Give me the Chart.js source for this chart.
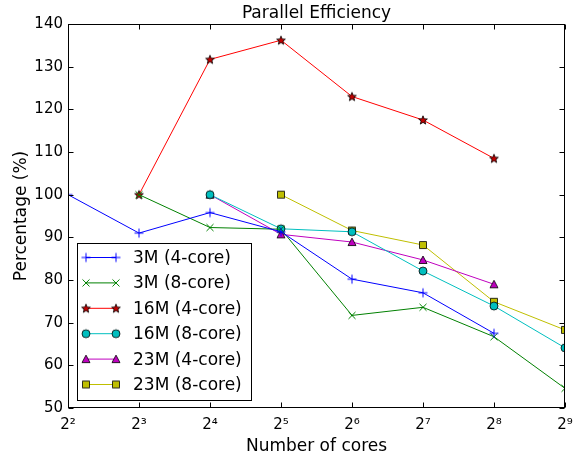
<!DOCTYPE html>
<html>
<head>
<meta charset="utf-8">
<script src="https://cdn.jsdelivr.net/npm/chart.js"></script>
<style>
  html, body { margin: 0; padding: 0; background: #fff; }
</style>
</head>
<body>
<canvas id="effChart" width="574" height="458"></canvas>
<script>
// parallel efficiency (%), null = no run at that core count
const cores = [4, 8, 16, 32, 64, 128, 256, 512];
const xTickLabels = ['2²', '2³', '2⁴', '2⁵', '2⁶', '2⁷', '2⁸', '2⁹'];
const seriesNames = ['3M (4-core)', '3M (8-core)', '16M (4-core)', '16M (8-core)', '23M (4-core)', '23M (8-core)'];
const eff3M4 = [100, 91, 95.8, 91.3, 80.2, 77, 67.5, null];
const eff3M8 = [null, 100, 92.3, 91.9, 71.7, 73.6, 66.7, 54.6];
const eff16M4 = [null, 100, 131.7, 136.2, 123, 117.5, 108.5, null];
const eff16M8 = [null, null, 100, 92, 91.3, 82.1, 73.9, 64.1];
const eff23M4 = [null, null, 100, 90.7, 88.9, 84.7, 79, null];
const eff23M8 = [null, null, null, 100, 91.6, 88.2, 74.9, 68.3];

const FONT = 'DejaVu Sans';

// matplotlib-like markers drawn once into small canvases
function makeMarker(kind, fill, edge) {
    const c = document.createElement('canvas');
    c.width = 12; c.height = 12;
    const g = c.getContext('2d');
    const m = 6;
    g.lineWidth = 1;
    g.strokeStyle = edge;
    g.fillStyle = fill;
    g.beginPath();
    if (kind === 'plus') {
        g.moveTo(m - 4.5, m); g.lineTo(m + 4.5, m);
        g.moveTo(m, m - 4.5); g.lineTo(m, m + 4.5);
        g.stroke();
        return c;
    }
    if (kind === 'x') {
        g.moveTo(m - 3.5, m - 3.5); g.lineTo(m + 3.5, m + 3.5);
        g.moveTo(m + 3.5, m - 3.5); g.lineTo(m - 3.5, m + 3.5);
        g.stroke();
        return c;
    }
    if (kind === 'star') {
        for (let i = 0; i < 10; i++) {
            const r = i % 2 ? 2.0 : 4.6;
            const a = -Math.PI / 2 + i * Math.PI / 5;
            g.lineTo(m + r * Math.cos(a), m + 0.4 + r * Math.sin(a));
        }
        g.closePath();
    } else if (kind === 'circle') {
        g.arc(m, m, 4, 0, Math.PI * 2);
    } else if (kind === 'tri') {
        g.moveTo(m, m - 4); g.lineTo(m + 4, m + 3.5); g.lineTo(m - 4, m + 3.5);
        g.closePath();
    } else if (kind === 'square') {
        g.rect(m - 3.5, m - 3.5, 7, 7);
    }
    g.fill();
    g.lineWidth = 0.8;
    g.strokeStyle = '#000';
    g.stroke();
    return c;
}

const colors = ['#0000ff', '#008000', '#ff0000', '#00bfbf', '#bf00bf', '#bfbf00'];
const markers = [
    makeMarker('plus', '#0000ff', '#0000ff'),
    makeMarker('x', '#008000', '#008000'),
    makeMarker('star', '#c00000', '#000'),
    makeMarker('circle', '#00bfbf', '#000'),
    makeMarker('tri', '#bf00bf', '#000'),
    makeMarker('square', '#bfbf00', '#000')
];
const allSeries = [eff3M4, eff3M8, eff16M4, eff16M8, eff23M4, eff23M8];

const datasets = allSeries.map(function(vals, i) {
    return {
        label: seriesNames[i],
        data: cores.map((c, j) => ({ x: c, y: vals[j] })),
        borderColor: colors[i],
        backgroundColor: colors[i],
        borderWidth: 1,
        pointStyle: markers[i],
        pointRadius: 5,
        tension: 0,
        clip: 0
    };
});

// frame, inward ticks on all sides, title and the boxed legend
const mplDecor = {
    id: 'mplDecor',
    afterDraw(chart) {
        const ctx = chart.ctx;
        const a = chart.chartArea;
        const xs = chart.scales.x, ys = chart.scales.y;
        ctx.save();
        ctx.strokeStyle = '#000';
        ctx.lineWidth = 1;
        const L = Math.round(a.left) + 0.5, R = Math.round(a.right) - 0.5;
        const T = Math.round(a.top) + 0.5, B = Math.round(a.bottom) - 0.5;
        ctx.beginPath();
        cores.forEach(function(c) {
            const px = Math.round(xs.getPixelForValue(c)) + 0.5;
            ctx.moveTo(px, B); ctx.lineTo(px, B - 5);
            ctx.moveTo(px, T); ctx.lineTo(px, T + 5);
        });
        for (let v = 50; v <= 140; v += 10) {
            const py = Math.round(ys.getPixelForValue(v)) + 0.5;
            ctx.moveTo(L, py); ctx.lineTo(L + 5, py);
            ctx.moveTo(R, py); ctx.lineTo(R - 5, py);
        }
        ctx.stroke();
        ctx.strokeRect(L, T, R - L, B - T);

        // title
        ctx.fillStyle = '#000';
        ctx.font = '17px "' + FONT + '"';
        ctx.textAlign = 'center';
        ctx.textBaseline = 'alphabetic';
        ctx.fillText('Parallel Efficiency', (a.left + a.right) / 2, 18);

        // legend
        const lx = a.left + 9.5, ly = 243.5, lw = 174, lh = 157;
        ctx.fillStyle = '#fff';
        ctx.fillRect(lx, ly, lw, lh);
        ctx.strokeRect(lx, ly, lw, lh);
        ctx.textAlign = 'left';
        ctx.textBaseline = 'middle';
        seriesNames.forEach(function(name, i) {
            const y = 257.5 + i * 25.4;
            ctx.strokeStyle = colors[i];
            ctx.beginPath();
            ctx.moveTo(86, y); ctx.lineTo(116, y);
            ctx.stroke();
            ctx.drawImage(markers[i], 86 - 6, y - 6);
            ctx.drawImage(markers[i], 116 - 6, y - 6);
            ctx.fillStyle = '#000';
            ctx.fillText(name, 133, y + 1);
        });
        ctx.restore();
    }
};

new Chart(document.getElementById('effChart'), {
    type: 'line',
    data: { datasets: datasets },
    options: {
        responsive: false,
        animation: false,
        layout: { padding: { top: 24, right: 9, left: 0, bottom: 0 } },
        plugins: {
            legend: { display: false },
            tooltip: { enabled: false },
            title: { display: false }
        },
        scales: {
            x: {
                type: 'logarithmic',
                min: 4,
                max: 512,
                afterBuildTicks: function(s) { s.ticks = cores.map(v => ({ value: v })); },
                afterFit: function(s) { s.height = 50; s.paddingLeft = 0; s.paddingRight = 0; },
                grid: { display: false, drawTicks: false },
                border: { display: false },
                ticks: {
                    autoSkip: false,
                    maxRotation: 0,
                    padding: 8,
                    color: '#000',
                    font: { family: FONT, size: 15 },
                    callback: function(v, i) { return xTickLabels[i]; }
                },
                title: {
                    display: true,
                    text: 'Number of cores',
                    color: '#000',
                    font: { family: FONT, size: 17 },
                    padding: { top: 0, bottom: 1 }
                }
            },
            y: {
                min: 50,
                max: 140,
                afterFit: function(s) { s.width = 68; s.paddingTop = 0; s.paddingBottom = 0; },
                grid: { display: false, drawTicks: false },
                border: { display: false },
                ticks: {
                    stepSize: 10,
                    padding: 5,
                    color: '#000',
                    font: { family: FONT, size: 15 }
                },
                title: {
                    display: true,
                    text: 'Percentage (%)',
                    color: '#000',
                    font: { family: FONT, size: 17 },
                    padding: { top: 11, bottom: 0 }
                }
            }
        }
    },
    plugins: [mplDecor]
});
</script>
</body>
</html>
